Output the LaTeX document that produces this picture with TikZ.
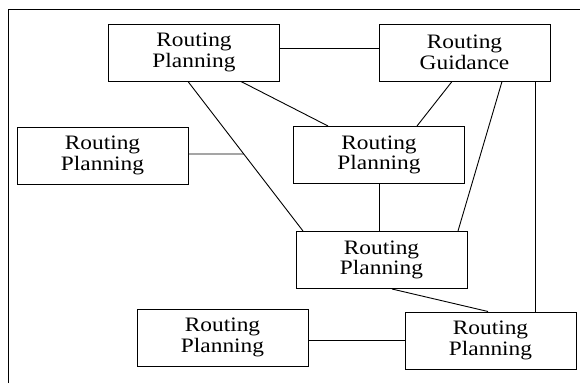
\documentclass[tikz,border=0pt]{standalone}
\usepackage{fontspec}
\setmainfont[FakeStretch=1.14]{Liberation Serif}
\usetikzlibrary{intersections}
\begin{document}
\begin{tikzpicture}[x=1pt,y=-1pt,
  box/.style={draw,line width=1pt,minimum width=171pt,minimum height=57pt,inner sep=0pt,align=center,
    font=\fontsize{20.5}{20.5}\selectfont},
  link/.style={line width=0.9pt}]
\useasboundingbox (0,0) rectangle (580,383);
\draw[line width=1pt] (8,383) -- (8,9) -- (580,9);
\node[box] (A) at (194,52.5) {Routing\\Planning};
\node[box] (G) at (464.5,52.5) {Routing\\Guidance};
\node[box] (L) at (102.5,155.5) {Routing\\Planning};
\node[box] (M) at (379,155) {Routing\\Planning};
\node[box] (C) at (381.5,260) {Routing\\Planning};
\node[box] (B) at (222.5,337.5) {Routing\\Planning};
\node[box] (R) at (490.5,340.5) {Routing\\Planning};
\draw[link] ([yshift=4.5pt]A.east) -- ([yshift=4.5pt]G.west);
\draw[link,name path=ac] ([xshift=-6pt]A.south) -- ([xshift=-78.5pt]C.north);
\path[name path=lh] ([yshift=1.5pt]L.east) -- ++(120,0);
\draw[link,name intersections={of=ac and lh,by=X}] ([yshift=1.5pt]L.east) -- (X);
\draw[link] ([xshift=47pt]A.south) -- ([xshift=-51pt]M.north);
\draw[link] ([xshift=-12.5pt]G.south) -- ([xshift=38pt]M.north);
\draw[link] ([xshift=37.5pt]G.south) -- ([xshift=76.5pt]C.north);
\draw[link] ([xshift=70.5pt]G.south) -- ([xshift=70.5pt]G.south |- R.north);
\draw[link] (M.south) -- (M.south |- C.north);
\draw[link] ([xshift=10.5pt]C.south) -- ([xshift=-2.5pt]R.north);
\draw[link] ([yshift=-2.5pt]B.east) -- ([yshift=-2.5pt]B.east -| R.west);
\end{tikzpicture}
\end{document}
